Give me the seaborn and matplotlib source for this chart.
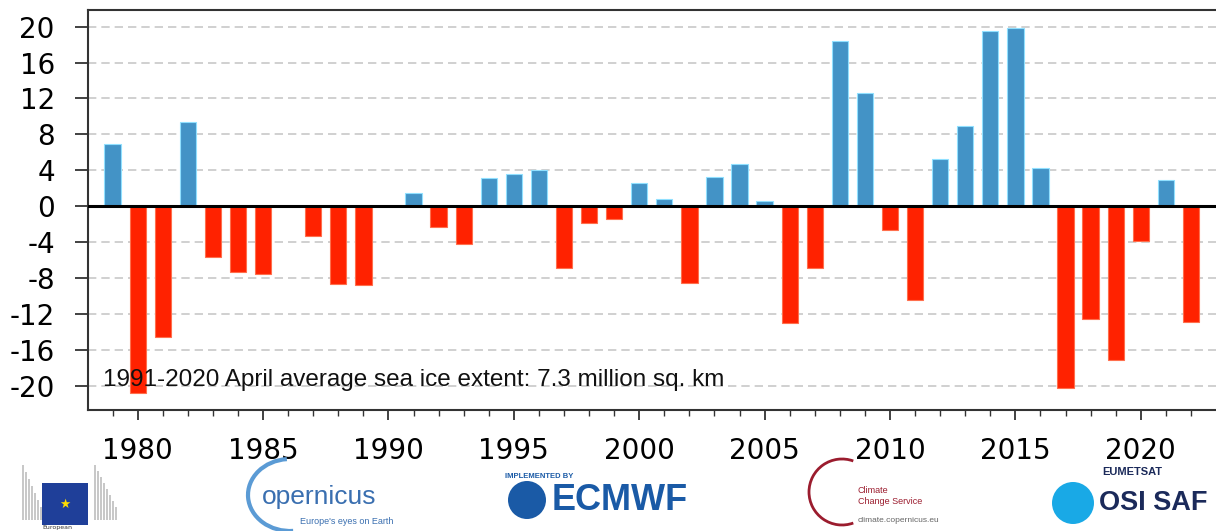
import matplotlib
matplotlib.use("Agg")
import pandas as pd
import matplotlib.pyplot as plt
import seaborn as sns
from matplotlib.patches import Rectangle, Arc, Circle
from matplotlib.transforms import IdentityTransform

# -------------------------------
# Data: April sea ice extent anomaly (%) vs 1991-2020
# -------------------------------
years = list(range(1979, 2023))
anomaly = [6.9, -20.8, -14.6, 9.4, -5.7, -7.3, -7.6, 0.0, -3.3, -8.7, -8.8, 0.0,
           1.5, -2.3, -4.2, 3.1, 3.6, 4.0, -6.9, -1.9, -1.4, 2.6, 0.8, -8.55,
           3.2, 4.7, 0.56, -13.0, -6.9, 18.4, 12.6, -2.7, -10.5, 5.3, 8.9, 19.5,
           19.8, 4.2, -20.3, -12.6, -17.1, -3.9, 2.9, -12.9]
y_ticks = list(range(-20, 21, 4))
x_major = list(range(1980, 2021, 5))
note = "1991-2020 April average sea ice extent: 7.3 million sq. km"

df = pd.DataFrame({"year": years, "anomaly": anomaly})
df["sign"] = ["pos" if v >= 0 else "neg" for v in df["anomaly"]]

sns.set_style("white")
plt.rcParams["font.family"] = ["DejaVu Sans"]

W, H = 1216, 531
fig = plt.figure(figsize=(W / 100, H / 100), dpi=100)
ax = fig.add_axes([87.5 / W, 1 - 410 / H, 1 - 87.5 / W, 400 / H])

# -------------------------------
# Bars
# -------------------------------
sns.barplot(data=df, x="year", y="anomaly", hue="sign", native_scale=True,
            dodge=False, width=0.65, legend=False, ax=ax, saturation=1,
            palette={"pos": "#4393c6", "neg": "#ff2200"})
for p in ax.patches:
    fc = p.get_facecolor()
    p.set_edgecolor((min(fc[0] + 0.3, 1), min(fc[1] + 0.3, 1), min(fc[2] + 0.3, 1)))
    p.set_linewidth(0.8)

ax.axhline(0, color="black", linewidth=2.2, zorder=3)
ax.set_xlim(1978, 2023)
ax.set_ylim(-22.7, 21.85)
ax.set_yticks(y_ticks)
ax.set_yticklabels([str(t) for t in y_ticks])
ax.set_xticks(x_major)
ax.set_xticks(years, minor=True)
ax.set_xticklabels([str(t) for t in x_major])
ax.set_xlabel("")
ax.set_ylabel("")

ax.yaxis.grid(True, linestyle=(0, (5, 3)), color="#c8c8c8", linewidth=1.2)
ax.set_axisbelow(True)

ax.tick_params(axis="y", which="major", length=9.5, width=1.3, pad=14,
               labelsize=20, color="#333333", labelcolor="black", left=True)
ax.tick_params(axis="x", which="major", length=7.5, width=1.3, pad=12,
               labelsize=20, color="#333333", labelcolor="black", bottom=True)
ax.tick_params(axis="x", which="minor", length=4.5, width=1.0,
               color="#333333", bottom=True)

for side in ["left", "bottom", "top"]:
    ax.spines[side].set_color("#333333")
    ax.spines[side].set_linewidth(1.5)
ax.spines["right"].set_visible(False)

ax.text(1978.62, -20.0, note, fontsize=17.5, family="Liberation Sans",
        va="baseline", ha="left", color="#111111", zorder=4)

# -------------------------------
# Logo strip (text approximations), pixel coordinates from top-left
# -------------------------------
px = IdentityTransform()


def fx(x):
    return x / W


def fy(y):
    return 1 - y / H


# European Commission
for i in range(8):
    fig.patches.append(Rectangle((22 + i * 3, H - 520), 2, 55 - i * 7,
                                 transform=px, color="#c8c8c8", lw=0))
    fig.patches.append(Rectangle((94 + i * 3, H - 520), 2, 55 - i * 6,
                                 transform=px, color="#c8c8c8", lw=0))
fig.patches.append(Rectangle((42, H - 525), 46, 42, transform=px,
                             color="#1f3f99", lw=0))
fig.text(fx(65), fy(504), "\u2605", color="#ffdd00", fontsize=9, ha="center", va="center")
fig.text(fx(42), fy(527), "European", fontsize=4.5, color="#333333", va="center")

# Copernicus
fig.patches.append(Arc((290, H - 495), 84, 72, theta1=95, theta2=275,
                       transform=px, color="#5b9bd5", lw=3))
fig.text(fx(262), fy(497), "opernicus", fontsize=19, color="#3a6fb0",
         family="Liberation Sans", va="center")
fig.text(fx(300), fy(521), "Europe's eyes on Earth", fontsize=6.5, color="#3a6fb0",
         family="Liberation Sans", va="center")

# ECMWF
fig.text(fx(505), fy(476), "IMPLEMENTED BY", fontsize=5.5, color="#1a5aa6",
         family="Liberation Sans", va="center", fontweight="bold")
fig.patches.append(Circle((527, H - 500), 19, transform=px,
                          color="#1a5aa6", lw=0))
fig.text(fx(552), fy(500), "ECMWF", fontsize=26, color="#1a5aa6",
         family="Liberation Sans", va="center", fontweight="bold")

# Climate Change Service
fig.patches.append(Arc((842, H - 492), 66, 66, theta1=70, theta2=290,
                       transform=px, color="#9b1c2e", lw=2))
fig.text(fx(858), fy(496), "Climate\nChange Service", fontsize=6.5, color="#9b1c2e",
         family="Liberation Sans", va="center", linespacing=1.4)
fig.text(fx(858), fy(520), "climate.copernicus.eu", fontsize=6, color="#666666",
         family="Liberation Sans", va="center")

# OSI SAF
fig.patches.append(Circle((1073, H - 503), 21, transform=px,
                          color="#19a9e6", lw=0))
fig.text(fx(1102), fy(472), "EUMETSAT", fontsize=8, color="#1b2a5a",
         family="Liberation Sans", va="center", fontweight="bold")
fig.text(fx(1099), fy(503), "OSI SAF", fontsize=19.5, color="#1b2a5a",
         family="Liberation Sans", va="center", fontweight="bold")

fig.savefig("out.png", dpi=100)
